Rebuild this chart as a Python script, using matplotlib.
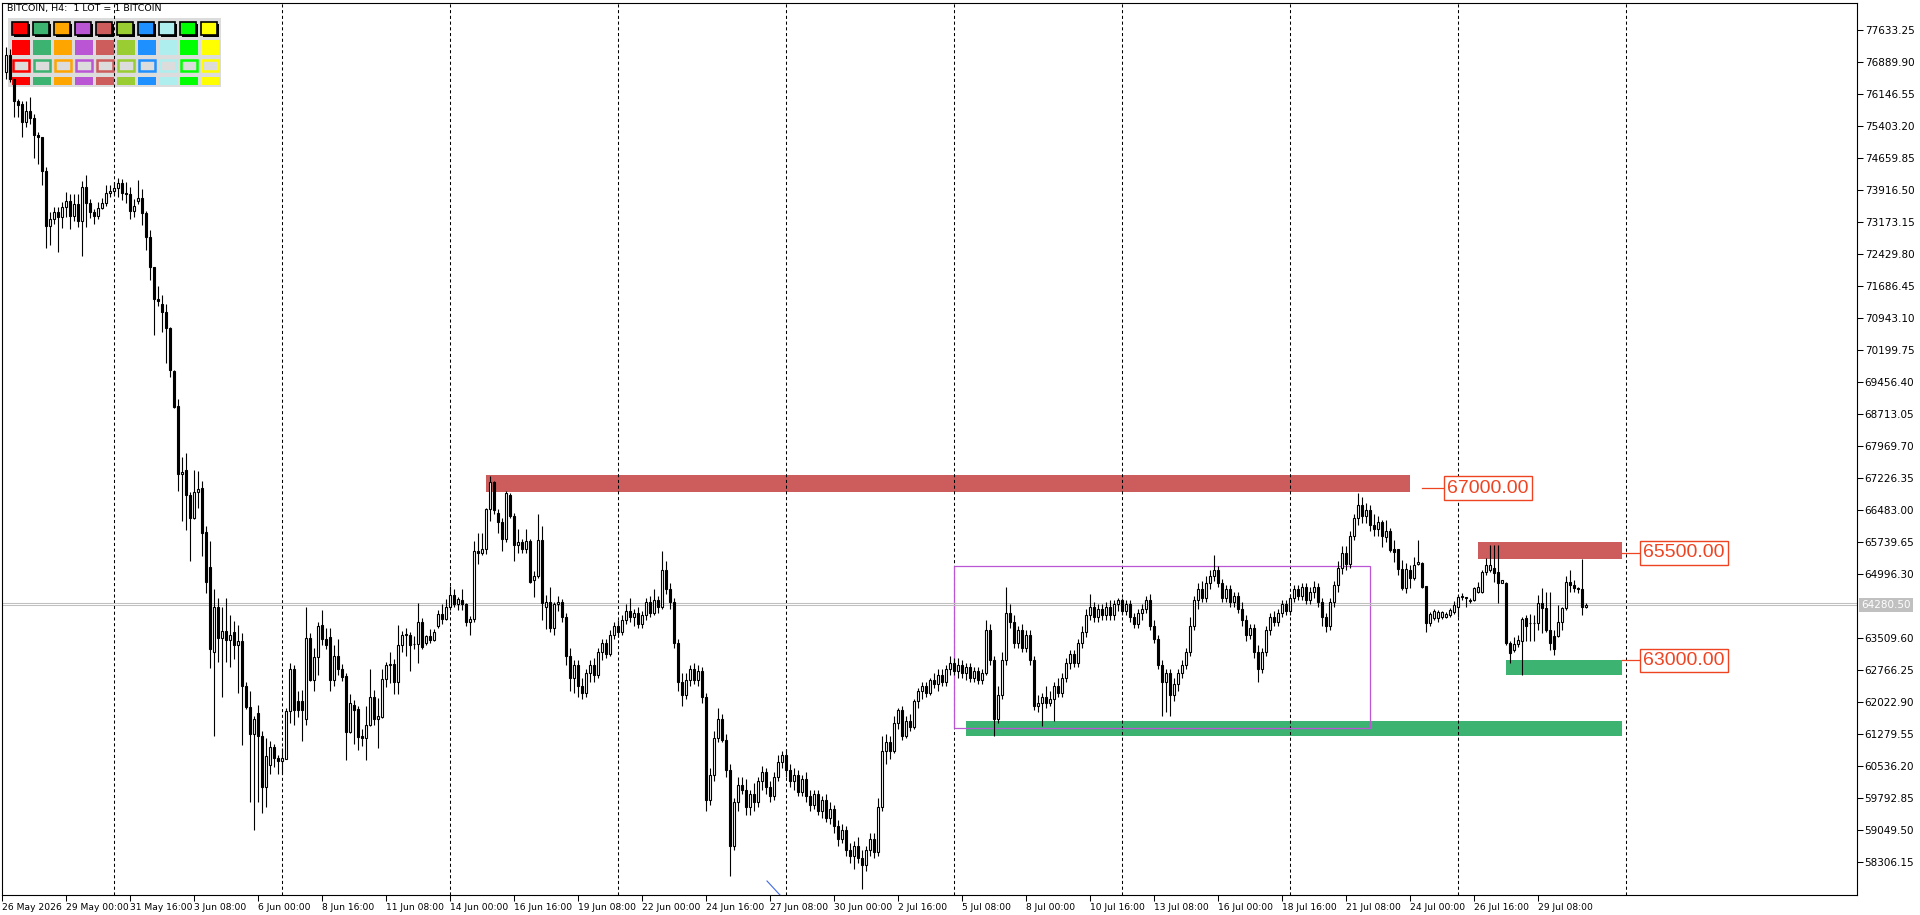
import numpy as np
import pandas as pd
import matplotlib
matplotlib.use("Agg")
import matplotlib.pyplot as plt
from matplotlib.patches import Rectangle
import matplotlib.transforms as mtransforms

# ---------------- data ----------------
symbol_title = "BITCOIN, H4:  1 LOT = 1 BITCOIN"
first_bar_time = "2026-05-26 12:00"

opens = [
76670, 77060, 76510, 76000, 75930, 75510, 75760, 75600, 75210, 75160,
74370, 73090, 73250, 73420, 73300, 73530, 73670, 73320, 73600, 73210,
74000, 73630, 73420, 73320, 73510, 73630, 73860, 73900, 73980, 74090,
73860, 73830, 73440, 73670, 73740, 73390, 72840, 72150, 71400, 71280,
71100, 70720, 69720, 68920, 67320, 67430, 66850, 66300, 66920, 67010,
65990, 65160, 63190, 64250, 63520, 63690, 63480, 63650, 63360, 63450,
62400, 61920, 61290, 61780, 61250, 60070, 60560, 60990, 60740, 60670,
60710, 61830, 62800, 62050, 62050, 61630, 63520, 62550, 63080, 63830,
63500, 63540, 62550, 63110, 62810, 62630, 61340, 61960, 61870, 61250,
61190, 61510, 62160, 61630, 61690, 62560, 62890, 62920, 62490, 63350,
63590, 63590, 63380, 63380, 63900, 63410, 63560, 63470, 63810, 64080,
63970, 64250, 64520, 64300, 64400, 64300, 63900, 63970, 65540, 65500,
65590, 66520, 67140, 66420, 66210, 65830, 66850, 66360, 65680, 65750,
65600, 65780, 64860, 64960, 65790, 64250, 64360, 63760, 64320, 64360,
64000, 63100, 62600, 62900, 62400, 62250, 62700, 62900, 62650, 63200,
63400, 63150, 63600, 63800, 63650, 63950, 64150, 64000, 64100, 63850,
64050, 64350, 64100, 64400, 64250, 65100, 64650, 64350, 63400, 62500,
62200, 62550, 62800, 62550, 62750, 62150, 59750, 60350, 61200, 61650,
61150, 60450, 58700, 59700, 60100, 60000, 59600, 59900, 59700, 60200,
60400, 60050, 59850, 60300, 60650, 60800, 60450, 60200, 60350, 59950,
60250, 59850, 59650, 59900, 59500, 59750, 59350, 59550, 59150, 58850,
59050, 58600, 58450, 58700, 58400, 58250, 58600, 58850, 58550, 59600,
60900, 61100, 60900, 61550, 61850, 61250, 61600, 61450, 62050, 62300,
62400, 62250, 62550, 62450, 62650, 62500, 62800, 62950, 62750, 62900,
62700, 62850, 62600, 62750, 62550, 62700, 63700, 63000, 61650, 62200,
63000, 64100, 63900, 63400, 63700, 63300, 63600, 63000, 61950, 62000,
62150, 62000, 62100, 62400, 62250, 62600, 62950, 63150, 62950, 63400,
63650, 64050, 64250, 64000, 64200, 64050, 64250, 64050, 64300, 64400,
64150, 64300, 64000, 63850, 64100, 64200, 64400, 63800, 63500, 62900,
62500, 62700, 62200, 62450, 62700, 62900, 63200, 63800, 64400, 64650,
64450, 64800, 64950, 65100, 64800, 64450, 64650, 64350, 64500, 64200,
63950, 63600, 63750, 63200, 62800, 63200, 63700, 64000, 63900, 64100,
64300, 64150, 64450, 64650, 64500, 64700, 64400, 64600, 64700, 64350,
64000, 63800, 64350, 64750, 65150, 65500, 65250, 65900, 66300, 66600,
66350, 66500, 66150, 66050, 66220, 65860, 66010, 65600, 65600, 65120,
64680, 65100, 64910, 65240, 65260, 64730, 63860, 63980, 63980, 64000,
64020, 64060, 64130, 64250, 64480, 64470, 64370, 64400, 64600, 64600,
65060, 65100, 65140, 65060, 64810, 64810, 63410, 63240, 63380, 63440,
63980, 63860, 63860, 63860, 64340, 64210, 63710, 63570, 63570, 63900,
64210, 64830, 64750, 64690, 64650, 64230]

highs = [
77250, 77200, 76510, 76040, 76000, 76000, 76090, 75690, 75270, 75160,
74460, 73420, 73530, 73530, 73650, 73880, 73840, 73840, 73840, 74140,
74280, 73720, 73490, 73650, 73740, 74040, 74040, 74110, 74210, 74180,
74110, 73990, 73720, 74160, 73950, 73440, 73000, 72150, 71700, 71500,
71280, 70740, 69740, 69070, 67720, 67830, 66920, 67430, 67410, 67160,
66120, 65780, 64670, 64450, 64250, 64450, 64050, 63920, 63830, 63630,
62490, 62280, 61720, 61970, 61360, 61190, 61140, 61070, 60800, 60960,
61900, 62940, 62890, 62300, 62310, 64250, 63630, 63290, 63900, 64180,
63760, 63760, 63360, 63500, 62920, 62700, 62210, 62070, 61940, 61410,
61940, 62810, 62310, 62120, 62810, 62960, 63200, 63030, 63830, 63690,
63760, 63650, 63560, 64340, 63990, 63600, 63720, 63720, 64160, 64300,
64430, 64740, 64650, 64480, 64650, 64340, 64030, 65780, 65960, 65960,
66550, 67280, 67160, 66510, 66300, 66940, 66890, 66430, 66050, 65810,
66050, 65810, 65070, 66400, 66120, 64520, 64700, 64360, 64500, 64420,
64100, 63300, 63000, 63000, 62600, 62800, 63000, 63050, 63300, 63500,
63500, 63700, 63900, 63950, 64050, 64300, 64450, 64200, 64250, 64150,
64450, 64500, 64650, 64500, 65550, 65300, 64800, 64450, 63500, 62700,
62700, 62900, 62950, 62900, 62850, 62250, 60500, 61350, 61900, 61750,
61300, 60600, 59800, 60300, 60300, 60250, 60000, 60150, 60300, 60550,
60500, 60200, 60400, 60800, 60900, 60950, 60600, 60500, 60450, 60350,
60400, 60000, 60000, 60000, 59850, 59900, 59700, 59650, 59300, 59200,
59150, 58750, 58800, 58900, 58600, 58700, 59000, 59000, 59800, 61250,
61300, 61250, 61700, 61900, 61950, 61700, 61750, 62100, 62350, 62500,
62500, 62600, 62700, 62800, 62800, 62900, 63100, 63050, 63050, 63000,
62950, 62950, 62850, 62850, 62800, 63950, 63850, 63100, 62400, 63200,
64700, 64300, 64050, 63800, 63850, 63700, 63700, 63100, 62200, 62250,
62400, 62300, 62500, 62600, 62700, 63050, 63250, 63250, 63500, 63800,
64200, 64550, 64350, 64300, 64300, 64350, 64400, 64400, 64450, 64450,
64400, 64400, 64100, 64200, 64300, 64500, 64550, 63950, 63600, 63000,
62800, 62800, 62600, 62800, 63000, 63300, 64000, 64500, 64800, 64850,
64950, 65100, 65450, 65200, 64900, 64750, 64750, 64600, 64600, 64350,
64050, 63850, 63850, 63350, 63300, 63800, 64100, 64150, 64200, 64400,
64400, 64550, 64750, 64750, 64800, 64800, 64700, 64850, 64800, 64450,
64100, 64450, 64850, 65300, 65650, 65650, 66000, 66400, 66900, 66800,
66650, 66600, 66400, 66350, 66260, 66270, 66070, 65800, 65600, 65330,
65260, 65220, 65410, 65800, 65290, 64730, 64130, 64190, 64170, 64150,
64130, 64210, 64370, 64520, 64560, 64480, 64440, 64710, 64830, 65100,
65370, 65680, 65680, 65680, 64880, 64830, 63440, 63550, 63590, 64020,
64060, 64090, 64060, 64520, 64680, 64600, 64600, 63710, 64290, 64250,
64950, 65100, 64870, 64710, 65360, 64340]

lows = [
76510, 76440, 75620, 75620, 75160, 75390, 75460, 74670, 74530, 74040,
72580, 72650, 73140, 72490, 73050, 73300, 73020, 73210, 73070, 72400,
73070, 73280, 73140, 73250, 73490, 73560, 73770, 73810, 73770, 73700,
73630, 73250, 73300, 73600, 73120, 72530, 71830, 70550, 71230, 70640,
69920, 69590, 68860, 66940, 66250, 66030, 65300, 66280, 66550, 65430,
64560, 62830, 61250, 62960, 62140, 62960, 62850, 63030, 62250, 61030,
61870, 59700, 59050, 59720, 59450, 59590, 60360, 60520, 60360, 60360,
60700, 61540, 61510, 61690, 61120, 61510, 62520, 62300, 62650, 63360,
63270, 62300, 62400, 62670, 62520, 60680, 61320, 61050, 60920, 61010,
60680, 61480, 61500, 60960, 61670, 62390, 62470, 62210, 62210, 63190,
63100, 62760, 63270, 62940, 63270, 63360, 63410, 63450, 63760, 63850,
63940, 64160, 64250, 64160, 64160, 63810, 63600, 63900, 65230, 65450,
65480, 66250, 66390, 65960, 65540, 65760, 66320, 65300, 65500, 65500,
65500, 64790, 64480, 64920, 63940, 63720, 63670, 63590, 64150, 63900,
62900, 62300, 62250, 62150, 62100, 62150, 62500, 62500, 62600, 63000,
63050, 63100, 63500, 63550, 63600, 63850, 63900, 63800, 63750, 63750,
63950, 64000, 64050, 64100, 64200, 64550, 64200, 63300, 62300, 61950,
62100, 62400, 62450, 62400, 62000, 59500, 59650, 60200, 61100, 61100,
60300, 58000, 58600, 59500, 59900, 59400, 59400, 59500, 59600, 60000,
59900, 59700, 59750, 60200, 60500, 60300, 60050, 60000, 59850, 59850,
59700, 59500, 59550, 59400, 59350, 59250, 59200, 59000, 58700, 58750,
58450, 58300, 58150, 58300, 57700, 58100, 58450, 58400, 58450, 59500,
60600, 60700, 60850, 61400, 61150, 61200, 61350, 61400, 61900, 62100,
62150, 62200, 62350, 62300, 62400, 62400, 62650, 62650, 62600, 62600,
62550, 62500, 62500, 62450, 62450, 62650, 62900, 61250, 61550, 62100,
62900, 63750, 63300, 63300, 63200, 63200, 62900, 61850, 61800, 61480,
61900, 61950, 61600, 62150, 62150, 62500, 62800, 62850, 62850, 63300,
63550, 63950, 63900, 63900, 63950, 63950, 63950, 63950, 64150, 64050,
64050, 63900, 63750, 63750, 63950, 64100, 63700, 63400, 62800, 61720,
61800, 61700, 62050, 62300, 62600, 62800, 63100, 63700, 64200, 64350,
64350, 64650, 64850, 64700, 64350, 64350, 64250, 64250, 64100, 63800,
63450, 63500, 63050, 62500, 62700, 63100, 63600, 63800, 63800, 64000,
64050, 64050, 64350, 64400, 64400, 64300, 64300, 64450, 64250, 63800,
63650, 63700, 64250, 64600, 65000, 65100, 65150, 65800, 66150, 66200,
66200, 66000, 65900, 65900, 65630, 65740, 65530, 65290, 64990, 64640,
64560, 64680, 64870, 65220, 64680, 63650, 63790, 63940, 63900, 63960,
63990, 64020, 64090, 64020, 64400, 64250, 64330, 64370, 64560, 64560,
64990, 65060, 64830, 64330, 64790, 63360, 62950, 63200, 63320, 62660,
63440, 63440, 63440, 63710, 63630, 63670, 63240, 63130, 63550, 63710,
64170, 64600, 64600, 64560, 64060, 64210]

closes = [
77060, 76510, 76000, 75900, 75510, 75760, 75600, 75210, 75160, 74370,
73090, 73250, 73420, 73300, 73530, 73670, 73320, 73600, 73210, 74000,
73630, 73420, 73320, 73510, 73630, 73860, 73900, 73980, 74090, 73860,
73830, 73440, 73560, 73740, 73390, 72840, 72150, 71390, 71350, 71100,
70720, 69740, 68880, 67320, 67380, 66850, 66300, 66920, 66980, 65960,
64830, 63270, 64250, 63520, 63690, 63480, 63590, 63360, 63450, 62400,
61920, 61290, 61630, 61250, 60070, 60770, 60990, 60740, 60670, 60740,
61830, 62800, 61850, 61850, 61850, 63520, 62550, 63080, 63810, 63500,
63360, 62550, 63110, 62810, 62610, 61340, 62010, 61850, 61230, 61190,
61510, 62160, 61630, 61720, 62560, 62890, 62920, 62490, 63350, 63590,
63610, 63360, 63390, 63900, 63320, 63560, 63470, 63670, 64080, 63970,
64250, 64520, 64300, 64430, 64300, 63900, 63970, 65540, 65500, 65590,
66520, 67140, 66490, 66210, 65810, 66880, 66360, 65680, 65760, 65600,
65780, 64830, 64960, 65790, 64340, 64360, 63760, 64320, 64360, 64000,
63100, 62600, 62900, 62400, 62250, 62700, 62900, 62650, 63200, 63400,
63150, 63600, 63800, 63650, 63950, 64150, 64000, 64100, 63850, 64050,
64350, 64100, 64400, 64250, 65100, 64650, 64350, 63400, 62500, 62200,
62550, 62800, 62550, 62750, 62150, 59750, 60350, 61200, 61650, 61150,
60450, 58700, 59700, 60100, 60000, 59600, 59900, 59700, 60200, 60400,
60050, 59850, 60300, 60650, 60800, 60450, 60200, 60350, 59950, 60250,
59850, 59650, 59900, 59500, 59750, 59350, 59550, 59150, 58850, 59050,
58600, 58450, 58700, 58400, 58250, 58600, 58850, 58550, 59600, 60900,
61100, 60900, 61550, 61850, 61250, 61600, 61450, 62050, 62300, 62400,
62250, 62550, 62450, 62650, 62500, 62800, 62950, 62750, 62900, 62700,
62850, 62600, 62750, 62550, 62700, 63700, 63000, 61650, 62200, 63000,
64100, 63900, 63400, 63700, 63300, 63600, 63000, 61950, 62000, 62150,
62000, 62100, 62400, 62250, 62600, 62950, 63150, 62950, 63400, 63650,
64050, 64250, 64000, 64200, 64050, 64250, 64050, 64300, 64400, 64150,
64300, 64000, 63850, 64100, 64200, 64400, 63800, 63500, 62900, 62500,
62700, 62200, 62450, 62700, 62900, 63200, 63800, 64400, 64650, 64450,
64800, 64950, 65100, 64800, 64450, 64650, 64350, 64500, 64200, 63950,
63600, 63750, 63200, 62800, 63200, 63700, 64000, 63900, 64100, 64300,
64150, 64450, 64650, 64500, 64700, 64400, 64600, 64700, 64350, 64000,
63800, 64350, 64750, 65150, 65500, 65250, 65900, 66300, 66600, 66350,
66500, 66150, 66050, 66220, 65880, 66010, 65570, 65530, 65120, 64680,
65120, 64910, 65220, 65290, 64710, 63860, 64080, 64150, 64130, 64130,
64090, 64170, 64290, 64480, 64490, 64460, 64400, 64680, 64700, 65060,
65220, 65220, 65020, 64810, 64870, 63400, 63180, 63380, 63480, 63960,
63800, 63870, 63870, 64340, 64210, 63710, 63400, 63260, 63900, 64210,
64830, 64750, 64680, 64650, 64230, 64290]

bid_price = 64280.50
ask_price = 64341.00

y_tick_values = [58306.15, 59049.50, 59792.85, 60536.20, 61279.55, 62022.90,
                 62766.25, 63509.60, 64996.30, 65739.65, 66483.00, 67226.35,
                 67969.70, 68713.05, 69456.40, 70199.75, 70943.10, 71686.45,
                 72429.80, 73173.15, 73916.50, 74659.85, 75403.20, 76146.55,
                 76889.90, 77633.25]

# price zones drawn on the chart (bar index start/end, price low/high)
zone_start = [120.0, 367.9, 375.0, 240.0]
zone_end = [351.0, 403.9, 403.9, 403.9]
zone_low = [66910, 65360, 62660, 61250]
zone_high = [67300, 65760, 63010, 61600]
zone_color = ["#cd5c5c", "#cd5c5c", "#3cb371", "#3cb371"]

range_box_bars = [237.0, 341.0]
range_box_prices = [61420, 65200]

label_text = ["67000.00", "65500.00", "63000.00"]
label_price = [67000, 65500, 63000]
label_line_start = [353.9, 403.9, 403.9]
label_box_start = [359.5, 408.5, 408.5]

trend_x = [190.25, 195.0]
trend_y = [57876, 57400]

palette = ["#ff0000", "#3cb371", "#ffa500", "#ba55d3", "#cd5c5c",
           "#9acd32", "#1e90ff", "#afeeee", "#00ff00", "#ffff00"]

# ---------------- figure ----------------
W, H = 1920, 915
fig = plt.figure(figsize=(W / 100, H / 100), dpi=100, facecolor="white")

# background layer (tool palette panel, under the chart)
bg = fig.add_axes([0, 0, 1, 1], zorder=-1)
bg.set_xlim(0, W)
bg.set_ylim(H, 0)
bg.axis("off")
bg.add_patch(Rectangle((8.3, 18.3), 212.4, 68.4, fc="#dcdcdc", ec="none"))
for k, col in enumerate(palette):
    x0 = 11.7 + 21 * k
    bg.add_patch(Rectangle((x0 + 1.8, 23.6), 16, 13, fc="black", ec="none"))
    bg.add_patch(Rectangle((x0 + 0.6, 22.4), 15.6, 12.4, fc=col, ec="black", lw=1.2))
    bg.add_patch(Rectangle((x0, 40.3), 18.3, 14.7, fc=col, ec="none"))
    bg.add_patch(Rectangle((x0 + 1.3, 59.6), 15.7, 10.9, fc="#dcdcdc", ec=col, lw=1.8))
    bg.add_patch(Rectangle((x0, 76.8), 18.3, 8.2, fc=col, ec="none"))

ax = fig.add_axes([2 / W, 1 - 895 / H, 1855 / W, 892 / H], zorder=1)
ax.set_facecolor("none")

n = min(len(opens), len(highs), len(lows), len(closes))
o = np.array(opens[:n], dtype=float)
hh = np.array(highs[:n], dtype=float)
ll = np.array(lows[:n], dtype=float)
c = np.array(closes[:n], dtype=float)
x = np.arange(n)

t0 = pd.Timestamp(first_bar_time)
step = pd.Timedelta(hours=4)

# zones
for xs, xe, lo, hi, col in zip(zone_start, zone_end, zone_low, zone_high, zone_color):
    ax.add_patch(Rectangle((xs, lo), xe - xs, hi - lo, fc=col, ec="none", zorder=1))
ax.add_patch(Rectangle((range_box_bars[0], range_box_prices[0]),
                       range_box_bars[1] - range_box_bars[0],
                       range_box_prices[1] - range_box_prices[0],
                       fc="none", ec="#ba55d3", lw=0.9, zorder=1.6))

# weekly grid
grid_times = pd.date_range("2026-05-31", "2026-08-02", freq="7D")
for gx in (grid_times - t0) / step:
    ax.axvline(gx, color="black", lw=0.75, ls=(0, (3, 2.5)), zorder=1.5)

# bid / ask lines
ax.axhline(bid_price, color="#c0c0c0", lw=0.75, zorder=2.5)
ax.axhline(ask_price, color="#c0c0c0", lw=0.75, zorder=2.5)

# candles
ax.vlines(x, ll, hh, color="black", lw=0.8, zorder=3)
up = c >= o
ax.bar(x[up], (c - o)[up], bottom=o[up], width=0.55, facecolor="white",
       edgecolor="black", linewidth=0.8, zorder=4)
ax.bar(x[~up], (o - c)[~up], bottom=c[~up], width=0.55, facecolor="black",
       edgecolor="black", linewidth=0.8, zorder=4)

# trend line fragment
ax.plot(trend_x, trend_y, color="#4169e1", lw=0.8, zorder=5)

# level labels
lab_col = "#ee4422"
for txt, p, ls_, bs in zip(label_text, label_price, label_line_start, label_box_start):
    ax.plot([ls_, bs], [p, p], color=lab_col, lw=0.9, zorder=5)
    tr = mtransforms.offset_copy(ax.transData, fig=fig, x=2.4, y=0, units="points")
    ax.text(bs, p, txt, transform=tr, ha="left", va="center", fontsize=14,
            family="Liberation Sans", color=lab_col, zorder=6,
            bbox=dict(boxstyle="square,pad=0.17", fc="white", ec=lab_col, lw=1.0))

# axes ranges
ax.set_xlim(-1.0, 462.75)
ax.set_ylim(57551, 78272)

# x ticks
label_times = pd.date_range("2026-05-26 08:00", periods=25, freq="64h")
label_pos = (label_times - t0) / step
xlabels = []
for k, t in enumerate(label_times):
    if k == 0:
        xlabels.append(f"{t.day} {t.strftime('%b')} {t.year}")
    else:
        xlabels.append(f"{t.day} {t.strftime('%b %H:%M')}")
ax.set_xticks(list(label_pos))
ax.set_xticklabels(xlabels, ha="left", fontsize=6.6)
ax.tick_params(axis="x", direction="out", length=4, width=0.75, pad=1.5)

# y ticks on right
ax.yaxis.tick_right()
ax.set_yticks(y_tick_values)
ax.set_yticklabels([f"{v:.2f}" for v in y_tick_values], fontsize=7.5)
ax.tick_params(axis="y", direction="out", length=4, width=0.75, pad=1.5)

for sp in ax.spines.values():
    sp.set_color("black")
    sp.set_linewidth(0.8)

# current price tag
blend = mtransforms.blended_transform_factory(ax.transAxes, ax.transData)
ax.text(1.0 + 4 / 1855, bid_price, f"{bid_price:.2f}", transform=blend, ha="left",
        va="center", fontsize=7.5, color="white", clip_on=False, zorder=7,
        bbox=dict(boxstyle="square,pad=0.2", fc="#c0c0c0", ec="none"))

# title
fig.text(7 / W, 1 - 4 / H, symbol_title, ha="left", va="top", fontsize=6.8,
         color="black", zorder=10)

fig.savefig("out.png", dpi=100, facecolor="white")
